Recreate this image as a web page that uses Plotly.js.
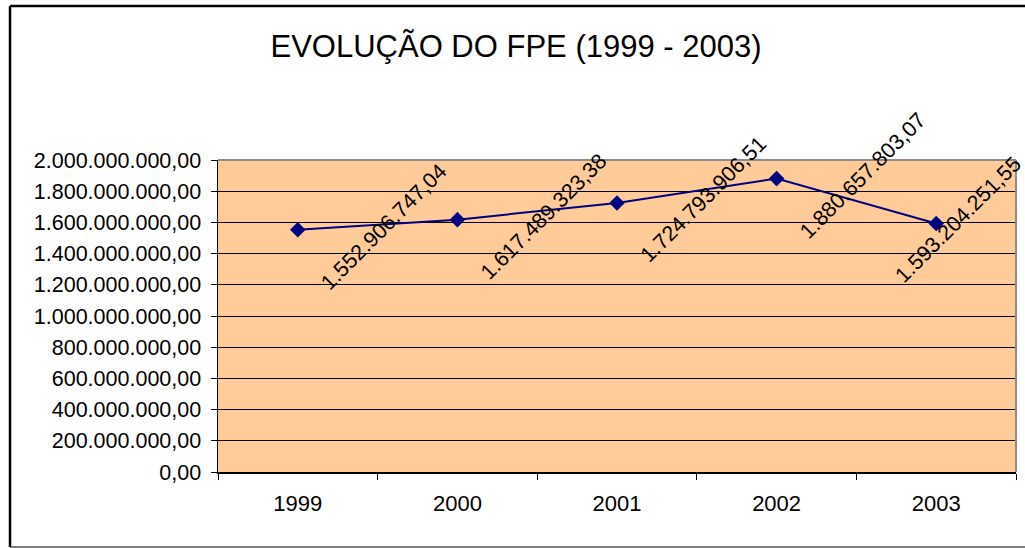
<!DOCTYPE html>
<html>
<head>
<meta charset="utf-8">
<script src="https://cdn.plot.ly/plotly-3.0.1.min.js"></script>
<style>
html,body{margin:0;padding:0;background:#fff;}
#chart{width:1025px;height:548px;}
</style>
</head>
<body>
<div id="chart"></div>
<script>
const years = ['1999', '2000', '2001', '2002', '2003'];
const fpe = [1552906747.04, 1617489323.38, 1724793906.51, 1880657803.07, 1593204251.55];
const yTicks = [0, 200000000, 400000000, 600000000, 800000000, 1000000000, 1200000000, 1400000000, 1600000000, 1800000000, 2000000000];
const titleText = 'EVOLUÇÃO DO FPE (1999 - 2003)';

function fmtBR(n) {
  const parts = n.toFixed(2).split('.');
  const intPart = parts[0].replace(/\B(?=(\d{3})+(?!\d))/g, '.');
  return intPart + ',' + parts[1];
}

const W = 1025, H = 548;
const M = {l: 218, r: 9, t: 160, b: 76};
const pw = W - M.l - M.r, ph = H - M.t - M.b;
function px2x(px) { return (px - M.l) / pw; }
function py2y(py) { return (H - M.b - py) / ph; }

const font = 'Arial, "Liberation Sans", sans-serif';

const annotations = years.map((yr, i) => ({
  x: i, y: fpe[i], xref: 'x', yref: 'y',
  text: fmtBR(fpe[i]),
  textangle: -45,
  showarrow: false,
  xanchor: 'center', yanchor: 'middle',
  xshift: i === years.length - 1 ? 22 : 86,
  yshift: 3,
  font: {family: font, size: 21.5, color: '#000'}
}));

const shapes = [
  {type: 'line', xref: 'paper', yref: 'paper', x0: 0, x1: 1, y0: 1, y1: 1, line: {color: '#8c8c8c', width: 2}},
  {type: 'line', xref: 'paper', yref: 'paper', x0: 1, x1: 1, y0: 0, y1: 1, line: {color: '#8c8c8c', width: 2}},
  {type: 'line', xref: 'paper', yref: 'paper', x0: px2x(10), x1: px2x(1030), y0: py2y(6), y1: py2y(6), line: {color: '#000', width: 2.5}},
  {type: 'line', xref: 'paper', yref: 'paper', x0: px2x(10), x1: px2x(10), y0: py2y(6), y1: py2y(547), line: {color: '#000', width: 2.5}},
  {type: 'line', xref: 'paper', yref: 'paper', x0: px2x(10), x1: px2x(1030), y0: py2y(547), y1: py2y(547), line: {color: '#555', width: 1.5}}
];

const trace = {
  x: years, y: fpe, type: 'scatter', mode: 'lines+markers',
  line: {color: '#000080', width: 2},
  marker: {symbol: 'diamond', size: 12, color: '#000080'},
  hoverinfo: 'skip'
};

const layout = {
  width: W, height: H,
  margin: M,
  paper_bgcolor: '#fff',
  plot_bgcolor: '#FFCC99',
  separators: ',.',
  showlegend: false,
  title: {
    text: titleText,
    x: 516 / W, xanchor: 'center',
    y: 1 - 46 / H, yanchor: 'middle',
    font: {family: font, size: 31, color: '#000'}
  },
  xaxis: {
    type: 'category',
    range: [-0.5, 4.5],
    tickson: 'boundaries',
    ticks: 'outside', ticklen: 6, tickcolor: '#000', tickwidth: 1,
    showline: true, linecolor: '#000', linewidth: 1.5,
    showgrid: false, zeroline: false,
    ticklabelstandoff: 11,
    tickfont: {family: font, size: 22, color: '#000'}
  },
  yaxis: {
    range: [0, 2000000000],
    tickvals: yTicks,
    tickformat: ',.2f',
    ticks: 'outside', ticklen: 6, tickcolor: '#000', tickwidth: 1,
    showline: true, linecolor: '#000', linewidth: 1.5,
    showgrid: true, gridcolor: '#000', gridwidth: 1,
    zeroline: false,
    ticklabelstandoff: 5,
    tickfont: {family: font, size: 21.5, color: '#000'}
  },
  annotations: annotations,
  shapes: shapes
};

Plotly.newPlot('chart', [trace], layout, {displayModeBar: false, staticPlot: true});
</script>
</body>
</html>
